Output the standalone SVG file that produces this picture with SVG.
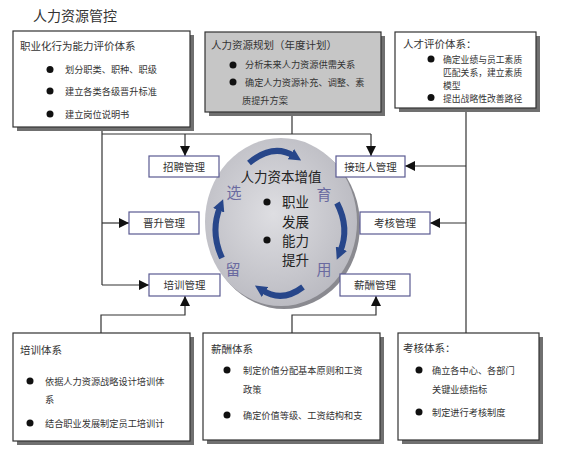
<svg xmlns="http://www.w3.org/2000/svg" width="565" height="458" viewBox="0 0 565 458">
<defs>
<style>
text{font-family:"Noto Sans CJK SC","Noto Sans",sans-serif;fill:#333}
.t{font-size:14px}
.h{font-size:10.5px}
.b{font-size:9.2px}
.b9{font-size:8.8px}
.s{font-size:10.5px;text-anchor:middle}
.c{font-size:13.5px;fill:#222}
.p{font-size:15px;fill:#6a6aa0;text-anchor:middle}
.box{fill:#fff;stroke:#333;stroke-width:1.2}
.gbox{fill:#c6c6c6;stroke:#333;stroke-width:1.2}
.sh{fill:#707070}
.sbox{fill:#fff;stroke:#5a5a92;stroke-width:1.2}
.ln{fill:none;stroke:#333;stroke-width:1.2}
.ba{fill:none;stroke:#27468a;stroke-width:6;stroke-linecap:butt}
.dot{fill:#111}
</style>
<marker id="ah" viewBox="0 0 10 10" refX="10" refY="5" markerWidth="10" markerHeight="10" markerUnits="userSpaceOnUse" orient="auto">
<path d="M0,0 L10,5 L0,10 z" fill="#111"/>
</marker>
<marker id="bh" viewBox="0 0 10 10" refX="3" refY="5" markerWidth="12" markerHeight="12" markerUnits="userSpaceOnUse" orient="auto">
<path d="M0,0 L10,5 L0,10 z" fill="#27468a"/>
</marker>
<radialGradient id="eg" cx="0.45" cy="0.45" r="0.6">
<stop offset="0" stop-color="#dedee2"/>
<stop offset="1" stop-color="#b9b9c0"/>
</radialGradient>
</defs>
<rect width="565" height="458" fill="#fff"/>
<text class="t" x="33" y="21">人力资源管控</text>

<g id="connectors">
<path class="ln" d="M292,112 V134"/>
<path class="ln" d="M102,128 V285"/>
<path class="ln" d="M102,134 H371"/>
<path class="ln" d="M185,134 V156" marker-end="url(#ah)"/>
<path class="ln" d="M371,134 V156" marker-end="url(#ah)"/>
<path class="ln" d="M102,223 H129" marker-end="url(#ah)"/>
<path class="ln" d="M102,285 H149" marker-end="url(#ah)"/>
<path class="ln" d="M466,108 V333"/>
<path class="ln" d="M466,166 H405" marker-end="url(#ah)"/>
<path class="ln" d="M466,223 H430" marker-end="url(#ah)"/>
<path class="ln" d="M101,333 V315 H185 V296" marker-end="url(#ah)"/>
<path class="ln" d="M292,333 V315 H376 V296" marker-end="url(#ah)"/>
</g>

<g id="n1">
<rect class="sh" x="17" y="35" width="177" height="96"/>
<rect class="box" x="13" y="31" width="177" height="96"/>
<text class="h" x="20" y="50">职业化行为能力评价体系</text>
<circle class="dot" cx="50" cy="69.5" r="3.5"/>
<text class="b" x="65" y="73">划分职类、职种、职级</text>
<circle class="dot" cx="50" cy="91" r="3.5"/>
<text class="b" x="65" y="95">建立各类各级晋升标准</text>
<circle class="dot" cx="50" cy="114" r="3.5"/>
<text class="b" x="65" y="118">建立岗位说明书</text>
</g>

<g id="n2">
<rect class="sh" x="209" y="36" width="176" height="80"/>
<rect class="gbox" x="205" y="32" width="176" height="80"/>
<text class="h" x="211" y="49">人力资源规划（年度计划）</text>
<circle class="dot" cx="233" cy="65" r="3.5"/>
<text class="b" x="245" y="68">分析未来人力资源供需关系</text>
<circle class="dot" cx="233" cy="82" r="3.5"/>
<text class="b" x="245" y="86">确定人力资源补充、调整、素</text>
<text class="b" x="242" y="104">质提升方案</text>
</g>

<g id="n3">
<rect class="sh" x="399" y="36" width="141" height="76"/>
<rect class="box" x="395" y="32" width="141" height="76"/>
<text class="h" x="403" y="48">人才评价体系：</text>
<circle class="dot" cx="431" cy="59" r="3.5"/>
<text class="b9" x="443" y="62.5">确定业绩与员工素质</text>
<text class="b9" x="443" y="75.5">匹配关系，建立素质</text>
<text class="b9" x="443" y="88.5">模型</text>
<circle class="dot" cx="431" cy="97.5" r="3.5"/>
<text class="b9" x="443" y="101.5">提出战略性改善路径</text>
</g>

<g id="center">
<ellipse cx="284" cy="225" rx="76" ry="84" fill="#8a8a90"/>
<ellipse cx="281" cy="222" rx="76" ry="84" fill="url(#eg)"/>
<path class="ba" d="M249,163 Q273,143 294,156" marker-end="url(#bh)"/>
<path class="ba" d="M337,203 Q350,228 340,252" marker-end="url(#bh)"/>
<path class="ba" d="M303,287 Q282,303 262,290" marker-end="url(#bh)"/>
<path class="ba" d="M222,258 Q210,232 220,207" marker-end="url(#bh)"/>
<text class="c" x="281" y="182" text-anchor="middle">人力资本增值</text>
<text class="p" x="234" y="198">选</text>
<text class="p" x="324" y="200">育</text>
<text class="p" x="233" y="275">留</text>
<text class="p" x="324" y="275">用</text>
<circle class="dot" cx="267" cy="202" r="3.6"/>
<text class="c" x="282" y="207">职业</text>
<text class="c" x="282" y="227">发展</text>
<circle class="dot" cx="267" cy="240" r="3.6"/>
<text class="c" x="282" y="246">能力</text>
<text class="c" x="282" y="265">提升</text>
</g>

<g id="zhaopin"><rect class="sbox" x="149" y="156" width="70" height="21"/><text class="s" x="184" y="170.5">招聘管理</text></g>
<g id="jiebanren"><rect class="sbox" x="336" y="156" width="69" height="21"/><text class="s" x="370.5" y="170.5">接班人管理</text></g>
<g id="jinsheng"><rect class="sbox" x="129" y="212" width="70" height="22"/><text class="s" x="164" y="227">晋升管理</text></g>
<g id="kaohe"><rect class="sbox" x="360" y="212" width="70" height="22"/><text class="s" x="395" y="227">考核管理</text></g>
<g id="peixun"><rect class="sbox" x="149" y="274" width="71" height="22"/><text class="s" x="184.5" y="289">培训管理</text></g>
<g id="xinchou"><rect class="sbox" x="340" y="274" width="70" height="22"/><text class="s" x="375" y="289">薪酬管理</text></g>

<g id="n4">
<rect class="sh" x="17" y="337" width="177" height="108"/>
<rect class="box" x="13" y="333" width="177" height="108"/>
<text class="h" x="20" y="354">培训体系</text>
<circle class="dot" cx="30" cy="381" r="3.5"/>
<text class="b" x="45" y="385">依据人力资源战略设计培训体</text>
<text class="b" x="45" y="403">系</text>
<circle class="dot" cx="30" cy="423" r="3.5"/>
<text class="b" x="45" y="427">结合职业发展制定员工培训计</text>
</g>

<g id="n5">
<rect class="sh" x="207" y="337" width="177" height="107"/>
<rect class="box" x="203" y="333" width="177" height="107"/>
<text class="h" x="211" y="353">薪酬体系</text>
<circle class="dot" cx="227" cy="370" r="3.5"/>
<text class="b" x="243" y="374">制定价值分配基本原则和工资</text>
<text class="b" x="243" y="393">政策</text>
<circle class="dot" cx="227" cy="415" r="3.5"/>
<text class="b" x="243" y="419">确定价值等级、工资结构和支</text>
</g>

<g id="n6">
<rect class="sh" x="402" y="337" width="141" height="107"/>
<rect class="box" x="398" y="333" width="141" height="107"/>
<text class="h" x="403" y="352">考核体系：</text>
<circle class="dot" cx="419" cy="370" r="3.5"/>
<text class="b" x="432" y="374">确立各中心、各部门</text>
<text class="b" x="432" y="393">关键业绩指标</text>
<circle class="dot" cx="419" cy="412" r="3.5"/>
<text class="b" x="432" y="416">制定进行考核制度</text>
</g>
</svg>
